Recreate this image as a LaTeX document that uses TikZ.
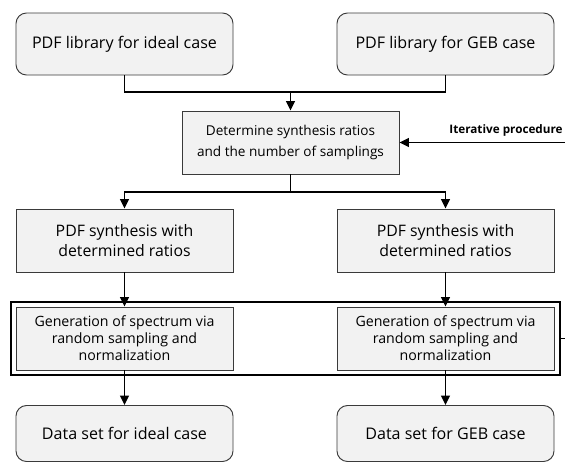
\documentclass[tikz,border=0pt]{standalone}
\usepackage{fontspec}
\setmainfont{Open Sans}
\usetikzlibrary{arrows.meta}
\definecolor{CFill}{HTML}{F2F2F2}
\definecolor{CLine}{HTML}{3A3A3A}

\tikzset{
  roundbox/.style={draw=CLine, fill=CFill, rounded corners=9pt, line width=0.8pt,
    minimum width=6.51cm, align=center, font=\fontsize{13.7}{16}\selectfont},
  flatbox/.style={draw=CLine, fill=CFill, line width=0.8pt,
    minimum width=6.51cm, minimum height=1.89cm, align=center, inner sep=1pt},
  link/.style={line width=1.2pt, -{Triangle[length=8pt,width=7.5pt]}},
  plain/.style={line width=1.2pt}
}

\begin{document}
\begin{tikzpicture}[x=0.03cm, y=-0.03cm]

  % frame of the picture (reference is cut at the right edge)
  \clip (0,0) rectangle (565,463);

  % ============================================
  % TOP: PDF libraries
  % ============================================
  \node[roundbox, minimum height=1.86cm] (libIdeal) at (124.5,44) {PDF library for ideal case};
  \node[roundbox, minimum height=1.86cm] (libGEB) at (445.5,44) {PDF library for GEB case};

  % Ratio box
  \node[flatbox, font=\fontsize{11.6}{18}\selectfont] (detRatio) at (290.5,142.5)
    {Determine synthesis ratios\\and the number of samplings};

  \coordinate (jTop) at (290.5,92);
  \draw[plain] (libIdeal.south) |- (jTop) -| (libGEB.south);
  \draw[link] (jTop) -- (detRatio.north);

  % ============================================
  % MIDDLE: synthesis for both cases
  % ============================================
  \node[flatbox, font=\fontsize{13.5}{16.5}\selectfont] (synIdeal) at (124.5,240.5)
    {PDF synthesis with\\determined ratios};
  \node[flatbox, font=\fontsize{13.5}{16.5}\selectfont] (synGEB) at (445.5,240.5)
    {PDF synthesis with\\determined ratios};

  \coordinate (jMid) at (290.5,192);
  \draw[plain] (detRatio.south) -- (jMid);
  \draw[link] (jMid) -| (synIdeal.north);
  \draw[link] (jMid) -| (synGEB.north);

  % Sampling group (outer frame with two boxes)
  \node[draw=black, line width=1.2pt, minimum width=16.47cm, minimum height=2.19cm] (sampling) at (285.5,338.5) {};
  \node[flatbox, font=\fontsize{12.1}{14.6}\selectfont] (genIdeal) at (124.5,338.5)
    {Generation of spectrum via\\random sampling and\\normalization};
  \node[flatbox, font=\fontsize{12.1}{14.6}\selectfont] (genGEB) at (445.5,338.5)
    {Generation of spectrum via\\random sampling and\\normalization};

  \draw[link] (synIdeal.south) -- (genIdeal.north);
  \draw[link] (synGEB.south) -- (genGEB.north);

  % ============================================
  % BOTTOM: data sets
  % ============================================
  \node[roundbox, minimum height=1.68cm] (dataIdeal) at (124.5,433.5) {Data set for ideal case};
  \node[roundbox, minimum height=1.68cm] (dataGEB) at (445.5,433.5) {Data set for GEB case};

  \draw[link] (genIdeal.south) -- (dataIdeal.north);
  \draw[link] (genGEB.south) -- (dataGEB.north);

  % Feedback loop
  \coordinate (loopCorner) at (580,338.5);
  \draw[link] (sampling.east) -- (loopCorner) |- (detRatio.east);
  \node[font=\fontsize{10}{12}\selectfont\bfseries, anchor=south east, inner sep=1pt] (iterLabel) at (564,138) {Iterative procedure};

\end{tikzpicture}
\end{document}
